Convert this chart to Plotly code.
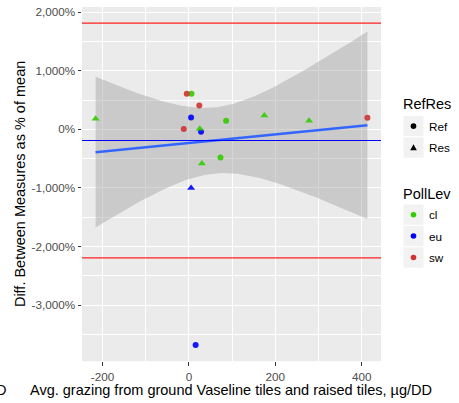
import numpy as np
import plotly.graph_objects as go

# ---- data -------------------------------------------------------------
grazing = [-216, -5, 6, 24, 5, -12, 25, 28, 86, 30, 73, 5, 15.5, 174.5, 278, 413]
diff_pct = [182, 608, 608, 409, 204, 5, 12, -39, 148, -584, -482, -1000, -3685, 238, 148, 199]
ref_res = ["Res", "Ref", "Ref", "Ref", "Ref", "Ref", "Res", "Ref", "Ref", "Res",
           "Ref", "Res", "Ref", "Res", "Res", "Ref"]
poll_lev = ["cl", "sw", "cl", "sw", "eu", "sw", "cl", "eu", "cl", "cl",
            "cl", "eu", "eu", "cl", "cl", "sw"]

x_tick_vals = [-200, 0, 200, 400]
x_tick_text = ["-200", "0", "200", "400"]
y_tick_vals = [-3000, -2000, -1000, 0, 1000, 2000]
y_tick_text = ["-3,000%", "-2,000%", "-1,000%", "0%", "1,000%", "2,000%"]

ref_res_levels = ["Ref", "Res"]
poll_levels = ["cl", "eu", "sw"]

# ---- styles -----------------------------------------------------------
W, H = 459, 403
FONT = "Liberation Sans, Arial, Helvetica, sans-serif"
poll_colors = {"cl": "#33CC00", "eu": "#0000FF", "sw": "#CD3333"}
symbols = {"Ref": "circle", "Res": "triangle-up"}
sizes = {"Ref": 6, "Res": 7}
PANEL_BG = "#EBEBEB"

# panel placement in pixels
PL, PR, PT, PB = 82, 381, 5, 361


def px_x(p):
    return p / W


def px_y(p):
    return 1 - p / H


x = np.array(grazing, dtype=float)
y = np.array(diff_pct, dtype=float)
n = len(x)

# Bland-Altman limits: mean bias +/- 1.96 SD
bias = y.mean()
sd = y.std(ddof=1)
upper = bias + 1.96 * sd
lower = bias - 1.96 * sd

# linear fit with 95% confidence band
slope, intercept = np.polyfit(x, y, 1)
t975 = 2.1448  # 97.5% t quantile, n - 2 = 14 df
resid = y - (slope * x + intercept)
s = np.sqrt((resid ** 2).sum() / (n - 2))
sxx = ((x - x.mean()) ** 2).sum()
xs = np.linspace(x.min(), x.max(), 80)
fit = slope * xs + intercept
se = s * np.sqrt(1 / n + (xs - x.mean()) ** 2 / sxx)
band_hi = fit + t975 * se
band_lo = fit - t975 * se

# axis ranges with 5% padding on each side
x_lo, x_hi = x.min(), x.max()
x_pad = 0.05 * (x_hi - x_lo)
y_all = np.concatenate([y, band_hi, band_lo, [upper, lower]])
y_lo, y_hi = y_all.min(), y_all.max()
y_pad = 0.05 * (y_hi - y_lo)

fig = go.Figure()

# confidence band
fig.add_trace(go.Scatter(
    x=np.concatenate([xs, xs[::-1]]), y=np.concatenate([band_hi, band_lo[::-1]]),
    fill="toself", fillcolor="rgba(153,153,153,0.4)", line=dict(width=0),
    mode="lines", hoverinfo="skip", showlegend=False))

# points
for rr in ref_res_levels:
    for pl in poll_levels:
        idx = [i for i in range(n) if ref_res[i] == rr and poll_lev[i] == pl]
        if not idx:
            continue
        fig.add_trace(go.Scatter(
            x=[grazing[i] for i in idx], y=[diff_pct[i] for i in idx],
            mode="markers", showlegend=False,
            marker=dict(symbol=symbols[rr], size=sizes[rr], color=poll_colors[pl],
                        opacity=0.9, line=dict(width=0))))

# fitted line
fig.add_trace(go.Scatter(x=xs, y=fit, mode="lines", showlegend=False,
                         line=dict(color="#3366FF", width=2.6), hoverinfo="skip"))

shapes = [
    dict(type="rect", xref="x domain", yref="y domain", x0=0, x1=1, y0=0, y1=1,
         fillcolor=PANEL_BG, line=dict(width=0), layer="below"),
    dict(type="line", xref="x domain", yref="y", x0=0, x1=1, y0=upper, y1=upper,
         line=dict(color="#FF2020", width=1.4)),
    dict(type="line", xref="x domain", yref="y", x0=0, x1=1, y0=lower, y1=lower,
         line=dict(color="#FF2020", width=1.4)),
    dict(type="line", xref="x domain", yref="y", x0=0, x1=1, y0=bias, y1=bias,
         line=dict(color="#0000FF", width=1.1)),
]


def label(text, px, py, size, xanchor="center", angle=0, color="black"):
    return dict(text=text, x=px_x(px), y=px_y(py), xref="paper", yref="paper",
                xanchor=xanchor, yanchor="middle", textangle=angle, borderpad=0,
                showarrow=False, font=dict(size=size, color=color, family=FONT))


annotations = [
    label("Avg. grazing from ground Vaseline tiles and raised tiles, µg/DD",
          (PL + PR) / 2, 389.5, 14.5),
    label("Diff. Between Measures as % of mean", 20, (PT + PB) / 2, 14.5, angle=-90),
    label("D", 7, 389.5, 14.5, xanchor="right"),
]

# legend blocks
KEY_L, KEY_R = 403, 424
KEY_H = 21.5


def legend_block(title, title_y, top, items):
    annotations.append(label(title, KEY_L - 1, title_y, 14.5, xanchor="left"))
    for k, (text, kind, color) in enumerate(items):
        y0 = top + k * KEY_H
        y1 = y0 + KEY_H
        shapes.append(dict(type="rect", xref="paper", yref="paper",
                           x0=px_x(KEY_L), x1=px_x(KEY_R), y0=px_y(y1), y1=px_y(y0),
                           fillcolor="#F2F2F2", line=dict(color="white", width=1)))
        cx, cy = (KEY_L + KEY_R) / 2, (y0 + y1) / 2
        if kind == "circle":
            r = 2.8
            shapes.append(dict(type="circle", xref="paper", yref="paper",
                               x0=px_x(cx - r), x1=px_x(cx + r),
                               y0=px_y(cy + r), y1=px_y(cy - r),
                               fillcolor=color, line=dict(width=0)))
        else:
            h = 3.3
            path = "M {} {} L {} {} L {} {} Z".format(
                px_x(cx - h), px_y(cy + h * 0.8), px_x(cx + h), px_y(cy + h * 0.8),
                px_x(cx), px_y(cy - h))
            shapes.append(dict(type="path", xref="paper", yref="paper", path=path,
                               fillcolor=color, line=dict(width=0)))
        annotations.append(label(text, 428, cy, 11.7, xanchor="left"))


legend_block("RefRes", 103, 114,
             [(lv, symbols[lv].split("-")[0], "black") for lv in ref_res_levels])
legend_block("PollLev", 193, 203,
             [(lv, "circle", poll_colors[lv]) for lv in poll_levels])

axis_common = dict(
    showline=False, zeroline=False, ticks="outside", ticklen=3.5, tickwidth=1,
    tickcolor="#333333", showgrid=True, gridcolor="white", gridwidth=1.1,
    tickfont=dict(size=11.7, color="#4D4D4D", family=FONT),
)

fig.update_layout(
    width=W, height=H, autosize=False,
    margin=dict(l=0, r=0, t=0, b=0),
    paper_bgcolor="white", plot_bgcolor="rgba(0,0,0,0)",
    showlegend=False, font=dict(family=FONT),
    xaxis=dict(domain=[px_x(PL), px_x(PR)], range=[x_lo - x_pad, x_hi + x_pad],
               tickmode="array", tickvals=x_tick_vals, ticktext=x_tick_text,
               ticklabelstandoff=1,
               minor=dict(dtick=100, tick0=0, showgrid=True, gridcolor="white",
                          gridwidth=0.55, ticks=""),
               **axis_common),
    yaxis=dict(domain=[px_y(PB), px_y(PT)], range=[y_lo - y_pad, y_hi + y_pad],
               tickmode="array", tickvals=y_tick_vals, ticktext=y_tick_text,
               minor=dict(dtick=500, tick0=0, showgrid=True, gridcolor="white",
                          gridwidth=0.55, ticks=""),
               **axis_common),
    shapes=shapes, annotations=annotations,
)

fig.write_html("out.html")
